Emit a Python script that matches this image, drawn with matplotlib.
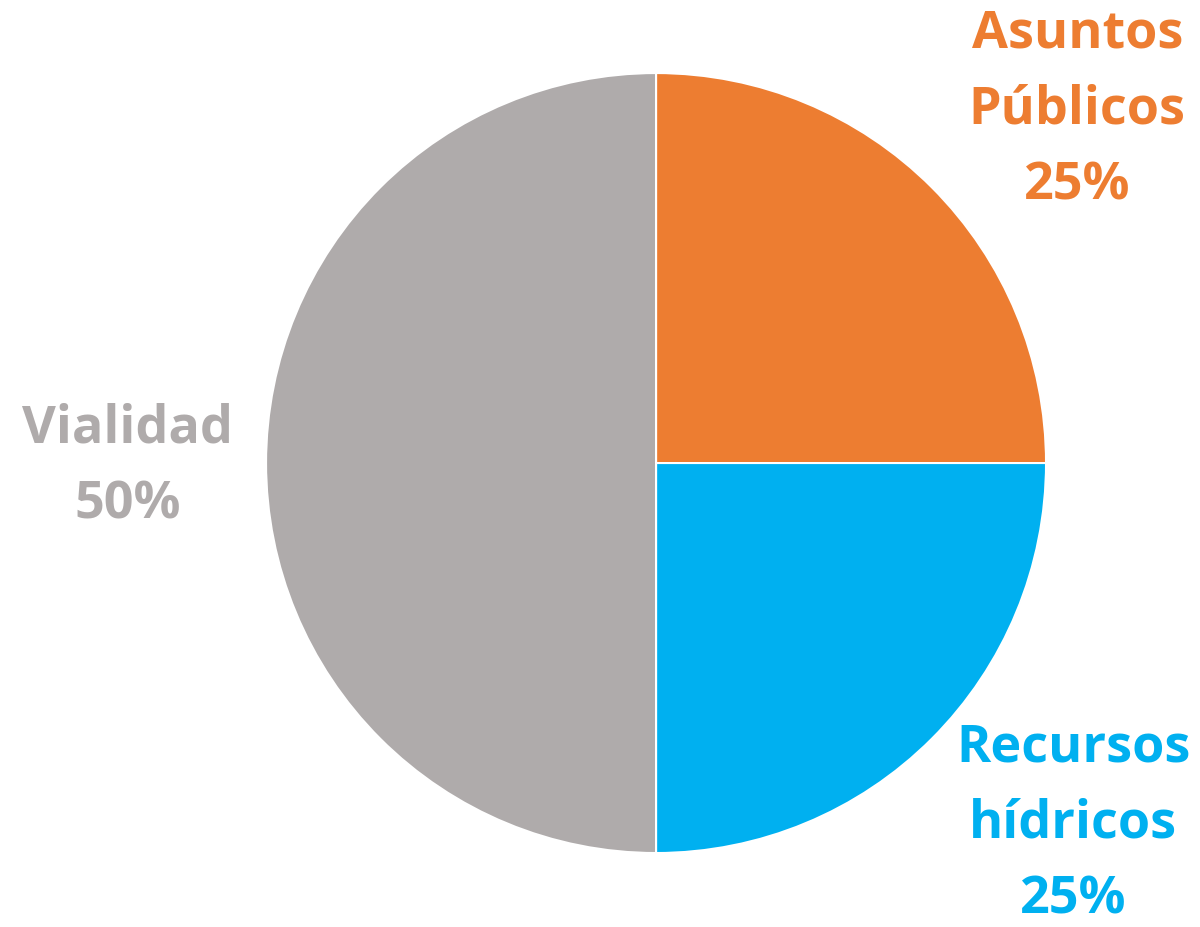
import matplotlib
matplotlib.use("Agg")
import matplotlib.pyplot as plt

# data
categories = ["Asuntos\nPúblicos", "Recursos\nhídricos", "Vialidad"]
shares = [25, 25, 50]
colors = ["#ED7D31", "#00B0F0", "#AFABAB"]

# label anchor points (in units of pie radius)
label_pos = [(1.08, 0.905), (1.07, -0.925), (-1.356, -0.01)]

fig = plt.figure(figsize=(12, 9.27), dpi=100)
ax = fig.add_axes([0.2217, 0.0798, 0.65, 0.8414])

ax.pie(shares, colors=colors, startangle=90, counterclock=False,
       wedgeprops=dict(edgecolor="white", linewidth=1.5))
ax.set_xlim(-1, 1)
ax.set_ylim(-1, 1)
ax.set_aspect("equal")
ax.axis("off")

for name, val, col, (x, y) in zip(categories, shares, colors, label_pos):
    ax.text(x, y, f"{name}\n{val}%", color=col, ha="center", va="center",
            fontsize=37.5, fontweight="bold", family=["Open Sans", "DejaVu Sans"],
            linespacing=1.57, clip_on=False)

fig.savefig("out.png", dpi=100)
